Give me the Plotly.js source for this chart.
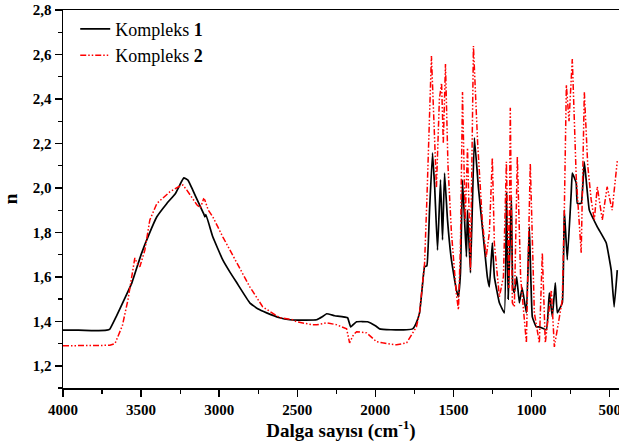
<!DOCTYPE html>
<html>
<head>
<meta charset="utf-8">
<script src="https://cdn.plot.ly/plotly-3.0.1.min.js"></script>
<style>html,body{margin:0;padding:0;background:#fff;}#chart{width:619px;height:448px;}</style>
</head>
<body>
<div id="chart"></div>
<script>
// Kompleks 1 (black)
const wn1 = [4000, 3900, 3800, 3720, 3700, 3660, 3600, 3559, 3500, 3450,
             3399, 3335, 3280, 3240, 3226, 3200, 3169, 3130, 3100, 3092,
             3085, 3041, 2977, 2930, 2887, 2804, 2750, 2696, 2612, 2549,
             2500, 2450, 2376, 2340, 2312, 2260, 2178, 2158, 2120, 2050,
             2000, 1973, 1900, 1800, 1762, 1740, 1717, 1700, 1685, 1670,
             1653, 1634, 1620, 1602, 1583, 1570, 1557, 1538, 1513, 1481,
             1468, 1455, 1442, 1417, 1410, 1391, 1366, 1340, 1315, 1283,
             1270, 1251, 1238, 1206, 1174, 1160, 1150, 1140, 1129, 1120,
             1110, 1095, 1078, 1060, 1033, 1014, 995, 970, 950, 905,
             886, 867, 848, 835, 803, 790, 771, 746, 739, 714,
             707, 682, 662, 630, 579, 522, 490, 471, 451];
const n1  = [1.36, 1.36, 1.358, 1.36, 1.365, 1.42, 1.51, 1.573, 1.70, 1.79,
             1.87, 1.93, 1.975, 2.03, 2.045, 2.035, 1.99, 1.93, 1.885, 1.87,
             1.88, 1.78, 1.676, 1.62, 1.573, 1.483, 1.455, 1.438, 1.416, 1.407,
             1.405, 1.405, 1.407, 1.42, 1.434, 1.425, 1.416, 1.375, 1.398, 1.398,
             1.38, 1.366, 1.362, 1.362, 1.366, 1.39, 1.438, 1.55, 1.645, 1.65,
             1.90, 2.157, 2.0, 1.72, 2.036, 1.766, 2.067, 1.856, 1.676, 1.54,
             1.51, 1.62, 2.036, 1.69, 1.90, 1.618, 2.225, 2.0, 1.825, 1.60,
             1.555, 1.753, 1.60, 1.483, 1.438, 1.98, 1.50, 1.70, 1.96, 1.55,
             1.528, 1.60, 1.483, 1.55, 1.438, 1.825, 1.42, 1.375, 1.375, 1.362,
             1.528, 1.42, 1.573, 1.438, 1.483, 1.90, 1.676, 1.977, 2.067, 2.022,
             1.93, 1.93, 2.117, 1.90, 1.825, 1.753, 1.63, 1.465, 1.63];

// Kompleks 2 (red)
const wn2 = [4000, 3900, 3800, 3700, 3667, 3620, 3584, 3550, 3540, 3525,
             3508, 3476, 3444, 3399, 3316, 3260, 3233, 3207, 3143, 3120,
             3100, 3092, 3070, 3041, 2977, 2887, 2804, 2721, 2612, 2530,
             2504, 2401, 2376, 2312, 2250, 2184, 2165, 2140, 2120, 2056,
             1992, 1954, 1864, 1800, 1762, 1737, 1717, 1700, 1685, 1670,
             1655, 1641, 1625, 1609, 1590, 1576, 1565, 1551, 1535, 1513,
             1481, 1468, 1455, 1442, 1425, 1410, 1391, 1372, 1345, 1315,
             1290, 1270, 1251, 1238, 1206, 1180, 1161, 1145, 1136, 1123,
             1110, 1091, 1070, 1033, 1008, 982, 950, 931, 912, 873,
             854, 822, 803, 790, 777, 760, 739, 714, 700, 682,
             662, 640, 618, 598, 579, 547, 516, 484, 451];
const n2  = [1.29, 1.29, 1.29, 1.292, 1.30, 1.38, 1.497, 1.64, 1.685, 1.66,
             1.645, 1.72, 1.856, 1.93, 1.982, 2.005, 2.013, 1.99, 1.924, 1.91,
             1.95, 1.946, 1.90, 1.87, 1.78, 1.663, 1.555, 1.465, 1.416, 1.407,
             1.398, 1.384, 1.384, 1.393, 1.385, 1.366, 1.303, 1.34, 1.353, 1.348,
             1.308, 1.303, 1.294, 1.303, 1.348, 1.375, 1.438, 1.55, 1.66, 1.95,
             2.3, 2.593, 2.30, 2.0, 2.40, 2.472, 2.20, 2.557, 2.10, 1.80,
             1.52, 1.452, 1.75, 2.431, 1.85, 2.18, 1.63, 2.638, 2.2, 1.85,
             1.69, 1.80, 2.135, 1.75, 1.51, 1.60, 2.117, 1.55, 2.36, 1.483,
             1.465, 2.14, 1.60, 1.303, 2.11, 1.438, 1.303, 1.708, 1.303, 1.54,
             1.285, 1.407, 1.497, 1.90, 2.463, 2.30, 2.58, 2.05, 1.90, 1.708,
             2.431, 2.10, 1.946, 1.856, 2.005, 1.856, 2.005, 1.90, 2.12];

const seriesNames = ['Kompleks <b>1</b>', 'Kompleks <b>2</b>'];
const xTickVals = [4000, 3500, 3000, 2500, 2000, 1500, 1000, 500];
const yTickVals = [1.2, 1.4, 1.6, 1.8, 2.0, 2.2, 2.4, 2.6, 2.8];

const FONT = 'Liberation Serif, Times New Roman, serif';

const traces = [
  {x: wn1, y: n1, name: seriesNames[0], type: 'scatter', mode: 'lines',
   line: {color: '#000000', width: 1.7, shape: 'spline', smoothing: 0.3}},
  {x: wn2, y: n2, name: seriesNames[1], type: 'scatter', mode: 'lines',
   line: {color: '#ff0000', width: 1.5, dash: '6px,2px,1.5px,2px,1.5px,2px'}}
];

const layout = {
  width: 619, height: 448,
  margin: {l: 63, r: 0, t: 10, b: 60},
  paper_bgcolor: '#ffffff', plot_bgcolor: '#ffffff',
  separators: ',.',
  showlegend: true,
  legend: {x: 0.022, y: 0.998, xanchor: 'left', yanchor: 'top',
           bgcolor: 'rgba(0,0,0,0)', font: {family: FONT, size: 18, color: '#000'},
           tracegroupgap: 0},
  xaxis: {
    range: [4000, 440], autorange: false,
    tickvals: xTickVals, tickformat: 'd', ticklabeloverflow: 'allow',
    ticks: 'outside', ticklen: 7, tickwidth: 1.5, tickcolor: '#000',
    minor: {dtick: 250, tick0: 0, ticks: 'outside', ticklen: 4, tickwidth: 1.2, tickcolor: '#000'},
    showline: true, linecolor: '#000', linewidth: 1.5, mirror: true,
    showgrid: false, zeroline: false,
    tickfont: {family: FONT, size: 15, color: '#000', weight: 'bold'},
    title: {text: 'Dalga sayısı (cm<sup>-1</sup>)', standoff: 6,
            font: {family: FONT, size: 19, color: '#000', weight: 'bold'}}
  },
  yaxis: {
    range: [1.1, 2.8], autorange: false,
    tickvals: yTickVals, tickformat: '.1f',
    ticks: 'outside', ticklen: 7, tickwidth: 1.5, tickcolor: '#000',
    minor: {dtick: 0.1, tick0: 0, ticks: 'outside', ticklen: 4, tickwidth: 1.2, tickcolor: '#000'},
    showline: true, linecolor: '#000', linewidth: 1.5, mirror: false,
    showgrid: false, zeroline: false,
    tickfont: {family: FONT, size: 15, color: '#000', weight: 'bold'},
    title: {text: 'n', standoff: 12,
            font: {family: FONT, size: 19, color: '#000', weight: 'bold'}}
  }
};

Plotly.newPlot('chart', traces, layout, {displayModeBar: false, staticPlot: true});
</script>
</body>
</html>
